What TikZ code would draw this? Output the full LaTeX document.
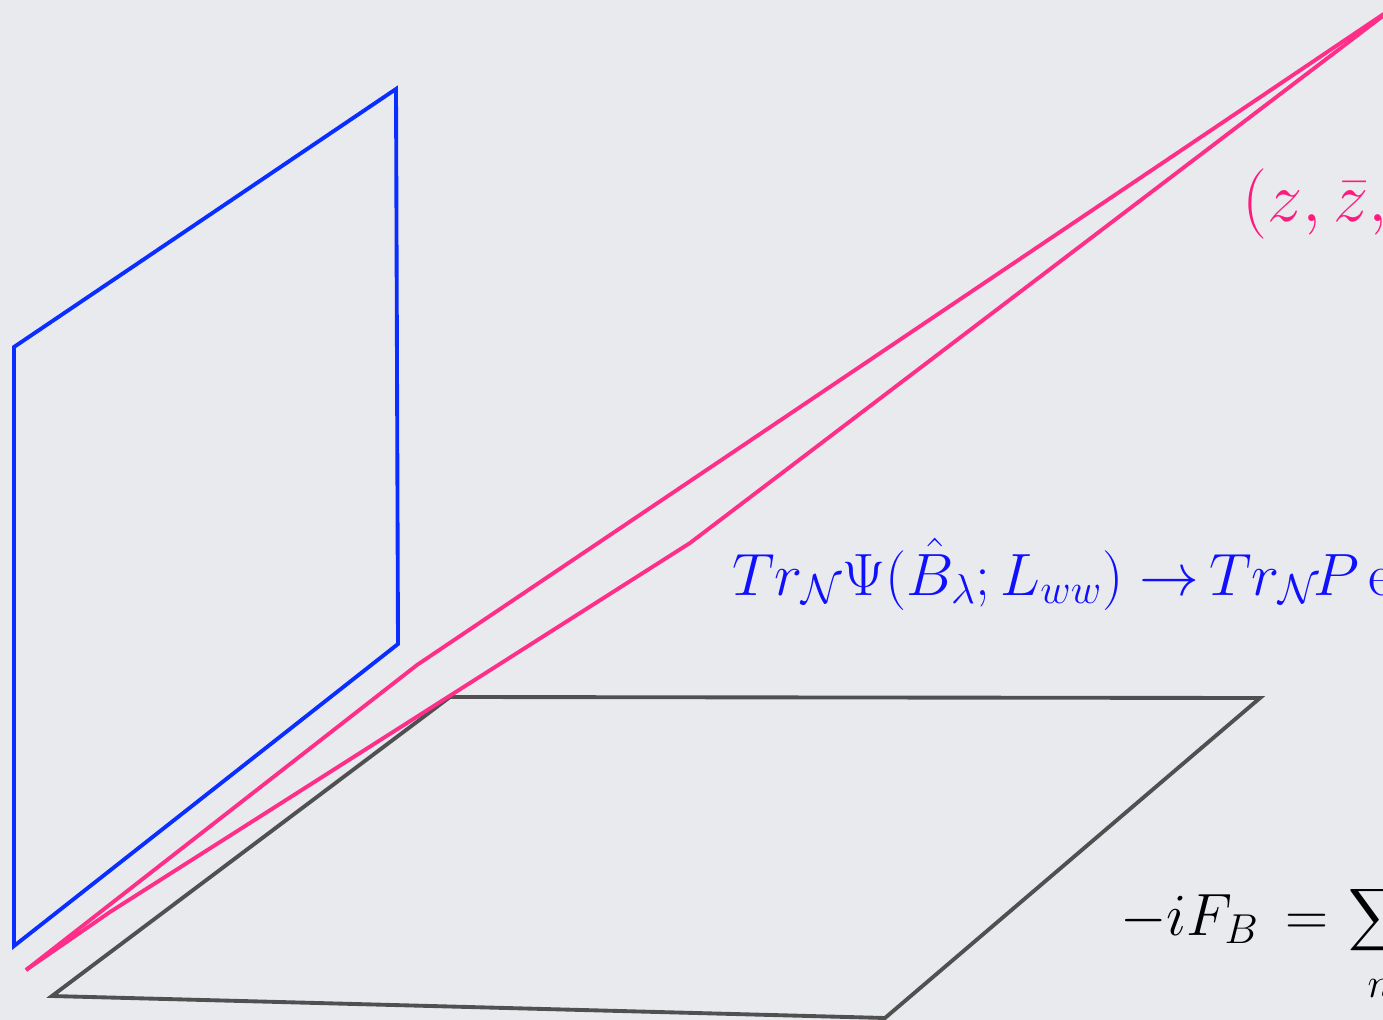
\documentclass[tikz,border=0pt]{standalone}
\usepackage{fix-cm}
\usepackage{amsmath}
\definecolor{bgc}{HTML}{E9EAEE}
\definecolor{planeblue}{HTML}{0A2EFF}
\definecolor{linepink}{HTML}{FF2E88}
\definecolor{textpink}{HTML}{FF1A7E}
\definecolor{textblue}{HTML}{1010FF}
\definecolor{planegray}{HTML}{505050}
\tikzset{
  edge/.style={line width=2.2pt, line join=miter},
  lbl/.style={inner sep=0pt, anchor=base west},
}
\begin{document}
\begin{tikzpicture}[x=0.02cm, y=-0.02cm]
\useasboundingbox (0,0) rectangle (1383,1020);
\clip (0,0) rectangle (1383,1020);
\fill[bgc] (0,0) rectangle (1383,1020);
% blue plane
\coordinate (b1) at (14,347);
\coordinate (b2) at (396,89);
\coordinate (b3) at (398,644);
\coordinate (b4) at (14,946);
\draw[edge, planeblue] (b1) -- (b2) -- (b3) -- (b4) -- cycle;
% gray plane
\coordinate (g1) at (52,996);
\coordinate (g2) at (450,697);
\coordinate (g3) at (1260,698);
\coordinate (g4) at (885,1018);
\draw[edge, planegray] (g1) -- (g2) -- (g3) -- (g4) -- cycle;
% pink lines
\coordinate (p0) at (26,970);
\coordinate (pu) at (417,665);
\coordinate (pl1) at (110,912);
\coordinate (pl2) at (690,543);
\coordinate (pt) at (1400,3);
\draw[edge, linepink] (p0) -- (pu) -- (pt);
\draw[edge, linepink] (p0) -- (pl1) -- (pl2) -- (pt);
% labels
\node[lbl, text=textpink, font=\fontsize{40}{48}\selectfont] (t1) at (1242,222) {$(z,\bar{z},t)$};
\node[lbl, text=textblue, font=\fontsize{34}{41}\selectfont] (t2) at (732,595) {$Tr_{\mathcal{N}}\Psi(\hat{B}_{\lambda};L_{ww})\to\mkern-2mu Tr_{\mathcal{N}}\mkern-2mu P\exp$};
\node[lbl, text=black, font=\fontsize{34}{41}\selectfont] (t3) at (1120,935) {$\displaystyle -iF_B\mkern3mu=\mkern1mu\sum_{\rule{0pt}{20pt}n}$};
\end{tikzpicture}
\end{document}
